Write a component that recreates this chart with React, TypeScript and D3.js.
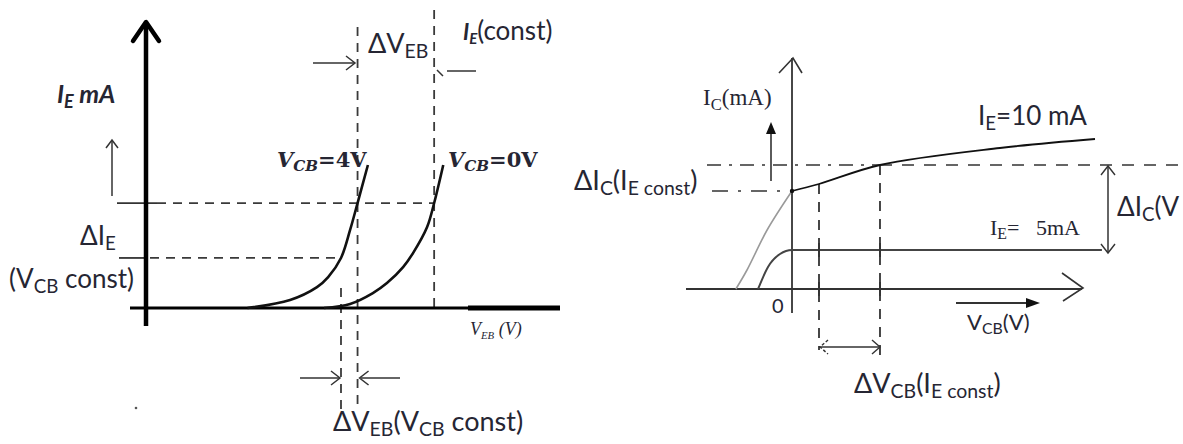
import React from "react";
import * as d3 from "d3";

// ---------- DATA ----------
// Left panel: input characteristics, I_E (mA) vs V_EB (V)
const inputCurveVcb4 = [
  { v: 0.245, i: 0 }, { v: 0.348, i: 0.28 }, { v: 0.413, i: 0.73 }, { v: 0.44, i: 1.08 },
  { v: 0.471, i: 1.75 }, { v: 0.493, i: 2.73 }, { v: 0.511, i: 3.67 }, { v: 0.536, i: 5.0 },
];
const inputCurveVcb0 = [
  { v: 0.43, i: 0 }, { v: 0.493, i: 0.14 }, { v: 0.548, i: 0.52 }, { v: 0.582, i: 0.87 },
  { v: 0.621, i: 1.43 }, { v: 0.645, i: 1.92 }, { v: 0.679, i: 2.83 }, { v: 0.696, i: 3.67 }, { v: 0.718, i: 5.0 },
];
const ieLevels = [1.75, 3.67];          // dashed I_E levels
const vebMarks = [0.471, 0.511, 0.696]; // dashed V_EB markers

// Right panel: output characteristics, I_C (mA) vs V_CB (V)
const outputIe10Knee = [
  { v: -1.87, i: 0 }, { v: -1.5, i: 1.9 }, { v: -0.83, i: 5.9 }, { v: 0, i: 9.8 },
];
const outputIe10 = [
  { v: 0, i: 9.8 }, { v: 0.9, i: 10.5 }, { v: 2.933, i: 12.4 }, { v: 6.93, i: 14.1 }, { v: 10.1, i: 15.0 },
];
const outputIe5 = [
  { v: -1.13, i: 0 }, { v: -0.8, i: 2.2 }, { v: -0.4, i: 3.5 }, { v: 0, i: 3.9 }, { v: 10.33, i: 3.9 },
];
const vcbMarks = [0.9, 2.933];
const icLevels = [9.8, 12.4];

// ---------- SCALES ----------
const xL = d3.scaleLinear().domain([0, 1]).range([146, 560]);
const yL = d3.scaleLinear().domain([0, 10]).range([308, 22]);
const xR = d3.scaleLinear().domain([0, 10]).range([792, 1092]);
const yR = d3.scaleLinear().domain([0, 25]).range([289, 39]);

const lineL = d3.line<{ v: number; i: number }>().x(d => xL(d.v)).y(d => yL(d.i)).curve(d3.curveCatmullRom.alpha(0.5));
const lineR = d3.line<{ v: number; i: number }>().x(d => xR(d.v)).y(d => yR(d.i)).curve(d3.curveCatmullRom.alpha(0.5));
const lineRFlat = d3.line<{ v: number; i: number }>().x(d => xR(d.v)).y(d => yR(d.i)).curve(d3.curveMonotoneX);

// chevron arrow head
function chev(tx: number, ty: number, dx: number, dy: number, len: number, hw: number) {
  const n = Math.hypot(dx, dy);
  const ux = dx / n, uy = dy / n;
  const px = -uy, py = ux;
  const bx = tx - ux * len, by = ty - uy * len;
  return `M${bx + px * hw},${by + py * hw}L${tx},${ty}L${bx - px * hw},${by - py * hw}`;
}
function tri(tx: number, ty: number, dx: number, dy: number, len: number, hw: number) {
  return chev(tx, ty, dx, dy, len, hw) + "Z";
}

type Part = [string, boolean?];
function Label(props: {
  x: number; y: number; size: number; family: string; parts: Part[];
  weight?: string; italic?: boolean; fill?: string; subScale?: number; italicParts?: boolean[];
}) {
  const { x, y, size, family, parts, weight, italic, fill, subScale, italicParts } = props;
  const ss = subScale ?? 0.72;
  const shift = size * 0.2;
  let cur = 0;
  return (
    <text x={x} y={y} fontSize={size} fontFamily={family} fontWeight={weight || "normal"}
      fontStyle={italic ? "italic" : "normal"} fill={fill || "#262633"}>
      {parts.map((p, k) => {
        const target = p[1] ? shift : 0;
        const dy = target - cur;
        cur = target;
        const st: any = { whiteSpace: "pre" };
        if (italicParts) st.fontStyle = italicParts[k] ? "italic" : "normal";
        return (
          <tspan key={k} dy={dy} fontSize={p[1] ? size * ss : size} style={st}>{p[0]}</tspan>
        );
      })}
    </text>
  );
}

const CAL = "Lato, 'Open Sans', sans-serif";
const SERIF = "'Liberation Serif', 'DejaVu Serif', serif";
const DSERIF = "'DejaVu Serif', serif";

export default function App() {
  const dashed = { stroke: "#3a3a3a", strokeWidth: 1.8, strokeDasharray: "9,7", fill: "none" };
  const thin = { stroke: "#333", strokeWidth: 1.5, fill: "none" };
  return (
    <svg width={1183} height={444} style={{ position: "absolute", left: 0, top: 0, background: "#fff" }}>
      {/* ================= LEFT PANEL ================= */}
      <line x1={117} x2={157} y1={yL(ieLevels[1])} y2={yL(ieLevels[1])} stroke="#333" strokeWidth={1.8} />
      <line x1={157} x2={xL(vebMarks[2])} y1={yL(ieLevels[1])} y2={yL(ieLevels[1])} {...dashed} />
      <line x1={119} x2={146} y1={yL(ieLevels[0])} y2={yL(ieLevels[0])} stroke="#333" strokeWidth={1.8} />
      <line x1={150} x2={xL(vebMarks[0])} y1={yL(ieLevels[0])} y2={yL(ieLevels[0])} {...dashed} />
      <line x1={xL(vebMarks[1])} x2={xL(vebMarks[1])} y1={27} y2={410} {...dashed} />
      <line x1={xL(vebMarks[2])} x2={xL(vebMarks[2])} y1={10} y2={yL(0)} {...dashed} />
      <line x1={xL(vebMarks[0])} x2={xL(vebMarks[0])} y1={288} y2={410} {...dashed} />

      {/* axes */}
      <line x1={xL(0)} x2={xL(0)} y1={24} y2={326} stroke="#000" strokeWidth={4.5} />
      <path d={chev(xL(0), 22, 0, -1, 19, 13)} stroke="#000" strokeWidth={4.5} fill="none" strokeLinecap="round" strokeLinejoin="round" />
      <line x1={130} x2={560} y1={yL(0)} y2={yL(0)} stroke="#000" strokeWidth={3} />
      <line x1={468} x2={560} y1={yL(0)} y2={yL(0)} stroke="#000" strokeWidth={5} />

      {/* curves */}
      <path d={lineL(inputCurveVcb4) || ""} stroke="#111" strokeWidth={2.6} fill="none" />
      <path d={lineL(inputCurveVcb0) || ""} stroke="#111" strokeWidth={2.6} fill="none" />

      {/* small arrows */}
      <line x1={112} x2={112} y1={196} y2={141} {...thin} />
      <path d={chev(112, 140, 0, -1, 8, 6)} {...thin} />
      <line x1={313} x2={354} y1={63} y2={63} {...thin} />
      <path d={chev(355, 63, 1, 0, 9, 7)} {...thin} />
      <line x1={447} x2={476} y1={71} y2={71} {...thin} />
      <path d="M437,70 L443,76" {...thin} />
      <line x1={300} x2={339} y1={378} y2={378} {...thin} />
      <path d={chev(xL(vebMarks[0]) - 1, 378, 1, 0, 9, 7)} {...thin} />
      <line x1={400} x2={361} y1={378} y2={378} {...thin} />
      <path d={chev(xL(vebMarks[1]) + 2, 378, -1, 0, 9, 7)} {...thin} />
      <circle cx={136} cy={408} r={1.3} fill="#555" />

      {/* labels */}
      <Label x={57} y={103} size={25} family={CAL} weight="bold" italic parts={[["I"], ["E", true], [" mA"]]} />
      <Label x={80} y={245} size={26} family={CAL} parts={[["Δ"], ["I"], ["E", true]]} />
      <Label x={9} y={288} size={26} family={CAL} parts={[["(V"], ["CB", true], [" const)"]]} />
      <Label x={368} y={53} size={27} family={CAL} parts={[["ΔV"], ["EB", true]]} />
      <text x={463} y={40} fontFamily={CAL} fill="#262633">
        <tspan fontSize={22} fontWeight="bold" fontStyle="italic">I</tspan>
        <tspan fontSize={15} fontWeight="bold" fontStyle="italic" dy={4}>E</tspan>
        <tspan fontSize={26} dy={-4}>(const)</tspan>
      </text>
      <Label x={277} y={167} size={21} family={DSERIF} weight="bold" italicParts={[true, true, false]} parts={[["V"], ["CB", true], ["=4V"]]} />
      <Label x={448} y={167} size={21} family={DSERIF} weight="bold" italicParts={[true, true, false]} parts={[["V"], ["CB", true], ["=0V"]]} />
      <Label x={470} y={335} size={18} family={SERIF} italic parts={[["V"], ["EB", true], [" (V)"]]} subScale={0.6} />
      <Label x={333} y={431} size={27} family={CAL} parts={[["ΔV"], ["EB", true], ["(V"], ["CB", true], [" const)"]]} />

      {/* ================= RIGHT PANEL ================= */}
      <line x1={707} x2={xR(vcbMarks[1])} y1={yR(icLevels[1])} y2={yR(icLevels[1])} stroke="#333" strokeWidth={1.6} strokeDasharray="14,8,3,8" />
      <line x1={xR(vcbMarks[1])} x2={1183} y1={yR(icLevels[1])} y2={yR(icLevels[1])} stroke="#333" strokeWidth={1.6} strokeDasharray="12,10" />
      <line x1={712} x2={xR(0)} y1={yR(icLevels[0])} y2={yR(icLevels[0])} stroke="#333" strokeWidth={1.6} strokeDasharray="16,10,3,10" />
      <line x1={xR(vcbMarks[0])} x2={xR(vcbMarks[0])} y1={yR(10.5)} y2={350} stroke="#333" strokeWidth={1.8} strokeDasharray="10,8" />
      <line x1={xR(vcbMarks[1])} x2={xR(vcbMarks[1])} y1={yR(icLevels[1])} y2={360} stroke="#333" strokeWidth={1.8} strokeDasharray="10,8" />

      {/* axes */}
      <line x1={xR(0)} x2={xR(0)} y1={58} y2={313} stroke="#333" strokeWidth={1.8} />
      <path d="M779,73 L793,58 L802,73" stroke="#333" strokeWidth={1.6} fill="none" />
      <line x1={686} x2={1082} y1={yR(0)} y2={yR(0)} stroke="#333" strokeWidth={2.2} />
      <path d="M1062,273 L1083,288 L1063,301" stroke="#333" strokeWidth={1.6} fill="none" />

      {/* curves */}
      <path d={lineR(outputIe10Knee) || ""} stroke="#9a9a9a" strokeWidth={1.6} fill="none" />
      <path d={lineR(outputIe10) || ""} stroke="#111" strokeWidth={1.8} fill="none" />
      <path d={lineRFlat(outputIe5) || ""} stroke="#444" strokeWidth={2} fill="none" />
      <circle cx={xR(0)} cy={yR(icLevels[0])} r={2.2} fill="#111" />

      {vcbMarks.map((m, k) => (
        <g key={k}>
          <line x1={xR(m)} x2={xR(m)} y1={yR(3.9) - 7} y2={yR(3.9) + 7} stroke="#333" strokeWidth={2} />
          <line x1={xR(m)} x2={xR(m)} y1={yR(0) - 7} y2={yR(0) + 7} stroke="#333" strokeWidth={2} />
        </g>
      ))}

      {/* arrows */}
      <line x1={771} x2={771} y1={181} y2={132} stroke="#333" strokeWidth={1.6} />
      <path d={tri(771, 122, 0, -1, 12, 5)} fill="#111" />
      <line x1={956} x2={1028} y1={303} y2={303} stroke="#333" strokeWidth={1.8} />
      <path d={tri(1040, 303, 1, 0, 14, 5)} fill="#111" />
      <line x1={xR(vcbMarks[0])} x2={xR(vcbMarks[1])} y1={347} y2={347} stroke="#333" strokeWidth={1.5} />
      <path d={chev(xR(vcbMarks[0]) + 1, 347, -1, 0, 8, 7)} stroke="#333" strokeWidth={1.4} fill="none" strokeDasharray="3,2" />
      <path d={chev(xR(vcbMarks[1]), 347, 1, 0, 8, 7)} stroke="#333" strokeWidth={1.4} fill="none" />
      <line x1={1108} x2={1108} y1={yR(icLevels[1]) + 1} y2={253} stroke="#333" strokeWidth={1.5} />
      <path d={chev(1108, yR(icLevels[1]) + 1, 0, -1, 9, 7)} stroke="#333" strokeWidth={1.4} fill="none" />
      <path d={chev(1108, 253, 0, 1, 9, 7)} stroke="#333" strokeWidth={1.4} fill="none" />

      {/* labels */}
      <Label x={703} y={105} size={23} family={SERIF} parts={[["I"], ["C", true], ["(mA)"]]} />
      <Label x={574} y={190} size={27} family={CAL} parts={[["ΔI"], ["C", true], ["(I"], ["E const", true], [")"]]} />
      <Label x={978} y={125} size={26} family={CAL} parts={[["I"], ["E", true], ["=10 mA"]]} />
      <Label x={990} y={235} size={22} family={SERIF} parts={[["I"], ["E", true], ["=   5mA"]]} />
      <Label x={1117} y={216} size={26} family={CAL} parts={[["ΔI"], ["C", true], ["(V"]]} />
      <Label x={967} y={330} size={22} family={CAL} parts={[["V"], ["CB", true], ["(V)"]]} />
      <Label x={854} y={393} size={27} family={CAL} parts={[["ΔV"], ["CB", true], ["(I"], ["E const", true], [")"]]} />
      <text x={772} y={313} fontSize={20} fontFamily={CAL} fill="#262633">0</text>
    </svg>
  );
}
